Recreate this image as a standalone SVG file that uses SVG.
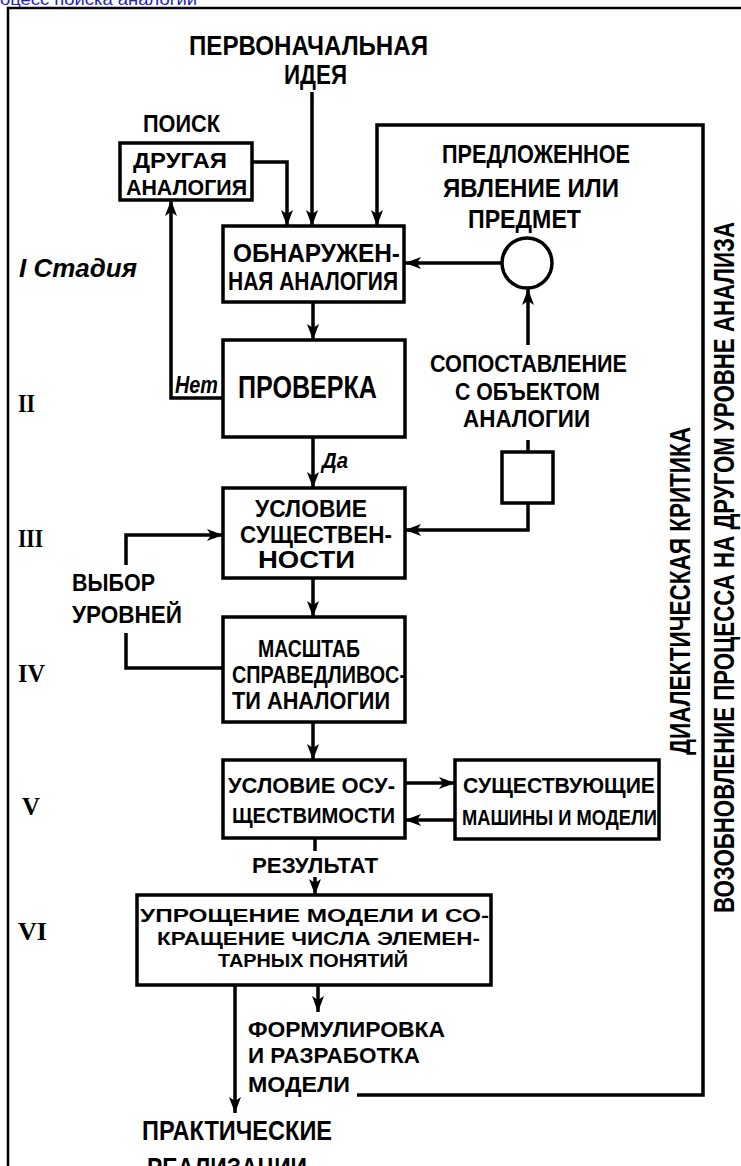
<svg xmlns="http://www.w3.org/2000/svg" width="741" height="1166" viewBox="0 0 741 1166">
<style>
.t{font-family:"Liberation Sans",Arial,sans-serif;font-weight:bold;fill:#000}
.i{font-style:italic}
.r{font-family:"Liberation Serif","Times New Roman",serif;font-weight:bold;fill:#000;font-size:26px}
.box{fill:#fff;stroke:#000;stroke-width:3.5}
.c{fill:none;stroke:#000;stroke-width:3.5}
.ca{fill:none;stroke:#000;stroke-width:3.5;marker-end:url(#ah)}
</style>
<defs>
<marker id="ah" viewBox="0 0 16 12" refX="16" refY="6" markerWidth="16" markerHeight="12" markerUnits="userSpaceOnUse" orient="auto">
<path d="M0,0 L16,6 L0,12 L4,6 z" fill="#000"/>
</marker>
</defs>
<rect width="741" height="1166" fill="#fff"/>
<text x="0" y="5" font-family="Liberation Sans,Arial,sans-serif" font-size="16" fill="#1f1fbf" textLength="197" lengthAdjust="spacingAndGlyphs">оцесс поиска аналогии</text>
<path d="M8,1166 V8 H741" fill="none" stroke="#000" stroke-width="2.5"/>

<g id="connectors">
<path class="ca" d="M312,92 V226"/>
<path class="ca" d="M252,162 H287 V226"/>
<path class="ca" d="M357,1095 H703 V125 H377 V226"/>
<path class="ca" d="M502,263 H405"/>
<path class="ca" d="M528,345 V289"/>
<path class="ca" d="M313,302 V340"/>
<path class="ca" d="M223,398 H171 V200"/>
<path class="ca" d="M313,437 V488"/>
<path class="c" d="M528,440 V452"/>
<path class="ca" d="M528,503 V530 H405"/>
<path class="ca" d="M126,565 V535 H223"/>
<path class="c" d="M126,633 V668 H223"/>
<path class="ca" d="M313,578 V617"/>
<path class="ca" d="M313,722 V760"/>
<path class="ca" d="M405,783 H455"/>
<path class="ca" d="M455,820 H405"/>
<path class="c" d="M315,838 V851"/>
<path class="ca" d="M315,877 V895"/>
<path class="ca" d="M318,985 V1012"/>
<path class="ca" d="M235,985 V1113"/>
</g>

<g id="start">
<text class="t" x="189" y="55" font-size="27" textLength="239" lengthAdjust="spacingAndGlyphs">ПЕРВОНАЧАЛЬНАЯ</text>
<text class="t" x="284" y="84" font-size="27" textLength="63" lengthAdjust="spacingAndGlyphs">ИДЕЯ</text>
</g>

<g id="search">
<text class="t" x="143" y="132" font-size="24" textLength="77" lengthAdjust="spacingAndGlyphs">ПОИСК</text>
</g>

<g id="other-analogy">
<rect class="box" x="120" y="143" width="132" height="57"/>
<text class="t" x="133" y="168" font-size="22" textLength="94" lengthAdjust="spacingAndGlyphs">ДРУГАЯ</text>
<text class="t" x="126" y="195" font-size="22" textLength="121" lengthAdjust="spacingAndGlyphs">АНАЛОГИЯ</text>
</g>

<g id="found-analogy">
<rect class="box" x="223" y="226" width="181" height="76"/>
<text class="t" x="233" y="262" font-size="25" textLength="167" lengthAdjust="spacingAndGlyphs">ОБНАРУЖЕН-</text>
<text class="t" x="228" y="290" font-size="25" textLength="170" lengthAdjust="spacingAndGlyphs">НАЯ АНАЛОГИЯ</text>
</g>

<g id="proposed">
<text class="t" x="442" y="163" font-size="25" textLength="188" lengthAdjust="spacingAndGlyphs">ПРЕДЛОЖЕННОЕ</text>
<text class="t" x="443" y="197" font-size="25" textLength="176" lengthAdjust="spacingAndGlyphs">ЯВЛЕНИЕ ИЛИ</text>
<text class="t" x="468" y="228" font-size="25" textLength="113" lengthAdjust="spacingAndGlyphs">ПРЕДМЕТ</text>
</g>

<g id="circle-node">
<circle cx="527" cy="263" r="25" fill="#fff" stroke="#000" stroke-width="3.5"/>
</g>

<g id="check">
<rect class="box" x="223" y="340" width="182" height="97"/>
<text class="t" x="238" y="398" font-size="31" textLength="139" lengthAdjust="spacingAndGlyphs">ПРОВЕРКА</text>
<text class="t i" x="175" y="393" font-size="24" textLength="43" lengthAdjust="spacingAndGlyphs">Нет</text>
<text class="t i" x="322" y="468" font-size="22" textLength="26" lengthAdjust="spacingAndGlyphs">Да</text>
</g>

<g id="compare">
<text class="t" x="430" y="372" font-size="24" textLength="197" lengthAdjust="spacingAndGlyphs">СОПОСТАВЛЕНИЕ</text>
<text class="t" x="455" y="400" font-size="24" textLength="145" lengthAdjust="spacingAndGlyphs">С ОБЪЕКТОМ</text>
<text class="t" x="463" y="427" font-size="24" textLength="127" lengthAdjust="spacingAndGlyphs">АНАЛОГИИ</text>
</g>

<g id="small-box">
<rect class="box" x="502" y="452" width="51" height="51"/>
</g>

<g id="essential">
<rect class="box" x="223" y="488" width="182" height="90"/>
<text class="t" x="255" y="517" font-size="23" textLength="112" lengthAdjust="spacingAndGlyphs">УСЛОВИЕ</text>
<text class="t" x="240" y="543" font-size="23" textLength="152" lengthAdjust="spacingAndGlyphs">СУЩЕСТВЕН-</text>
<text class="t" x="258" y="568" font-size="23" textLength="97" lengthAdjust="spacingAndGlyphs">НОСТИ</text>
</g>

<g id="levels">
<text class="t" x="72" y="591" font-size="24" textLength="83" lengthAdjust="spacingAndGlyphs">ВЫБОР</text>
<text class="t" x="72" y="623" font-size="24" textLength="110" lengthAdjust="spacingAndGlyphs">УРОВНЕЙ</text>
</g>

<g id="scale">
<rect class="box" x="223" y="617" width="182" height="105"/>
<text class="t" x="258" y="657" font-size="24" textLength="102" lengthAdjust="spacingAndGlyphs">МАСШТАБ</text>
<text class="t" x="232" y="683" font-size="24" textLength="174" lengthAdjust="spacingAndGlyphs">СПРАВЕДЛИВОС-</text>
<text class="t" x="232" y="709" font-size="24" textLength="158" lengthAdjust="spacingAndGlyphs">ТИ АНАЛОГИИ</text>
</g>

<g id="feasibility">
<rect class="box" x="223" y="760" width="182" height="78"/>
<text class="t" x="228" y="793" font-size="22" textLength="167" lengthAdjust="spacingAndGlyphs">УСЛОВИЕ ОСУ-</text>
<text class="t" x="232" y="823" font-size="22" textLength="163" lengthAdjust="spacingAndGlyphs">ЩЕСТВИМОСТИ</text>
</g>

<g id="existing">
<rect class="box" x="455" y="760" width="204" height="79"/>
<text class="t" x="463" y="793" font-size="22" textLength="192" lengthAdjust="spacingAndGlyphs">СУЩЕСТВУЮЩИЕ</text>
<text class="t" x="462" y="825" font-size="22" textLength="195" lengthAdjust="spacingAndGlyphs">МАШИНЫ И МОДЕЛИ</text>
</g>

<g id="result">
<text class="t" x="252" y="873" font-size="22" textLength="126" lengthAdjust="spacingAndGlyphs">РЕЗУЛЬТАТ</text>
</g>

<g id="simplify">
<rect class="box" x="137" y="895" width="354" height="90"/>
<text class="t" x="140" y="922" font-size="18" textLength="349" lengthAdjust="spacingAndGlyphs">УПРОЩЕНИЕ МОДЕЛИ И СО-</text>
<text class="t" x="157" y="945" font-size="18" textLength="323" lengthAdjust="spacingAndGlyphs">КРАЩЕНИЕ ЧИСЛА ЭЛЕМЕН-</text>
<text class="t" x="218" y="967" font-size="18" textLength="190" lengthAdjust="spacingAndGlyphs">ТАРНЫХ ПОНЯТИЙ</text>
</g>

<g id="formulation">
<text class="t" x="248" y="1037" font-size="22" textLength="197" lengthAdjust="spacingAndGlyphs">ФОРМУЛИРОВКА</text>
<text class="t" x="248" y="1063" font-size="22" textLength="172" lengthAdjust="spacingAndGlyphs">И РАЗРАБОТКА</text>
<text class="t" x="248" y="1092" font-size="22" textLength="102" lengthAdjust="spacingAndGlyphs">МОДЕЛИ</text>
</g>

<g id="practical">
<text class="t" x="142" y="1140" font-size="28" textLength="190" lengthAdjust="spacingAndGlyphs">ПРАКТИЧЕСКИЕ</text>
<text class="t" x="147" y="1177" font-size="28" textLength="160" lengthAdjust="spacingAndGlyphs">РЕАЛИЗАЦИИ</text>
</g>

<g id="stages">
<text class="t i" x="19" y="277" font-size="26" textLength="118" lengthAdjust="spacingAndGlyphs">I Стадия</text>
<text class="r" x="18" y="412" textLength="17" lengthAdjust="spacingAndGlyphs">II</text>
<text class="r" x="18" y="547" textLength="25" lengthAdjust="spacingAndGlyphs">III</text>
<text class="r" x="18" y="682" textLength="27" lengthAdjust="spacingAndGlyphs">IV</text>
<text class="r" x="22" y="815" textLength="18" lengthAdjust="spacingAndGlyphs">V</text>
<text class="r" x="18" y="940" textLength="29" lengthAdjust="spacingAndGlyphs">VI</text>
</g>

<g id="dialectic">
<text class="t" transform="translate(690,755) rotate(-90)" font-size="30" textLength="328" lengthAdjust="spacingAndGlyphs">ДИАЛЕКТИЧЕСКАЯ КРИТИКА</text>
</g>
<g id="renewal">
<text class="t" transform="translate(734,913) rotate(-90)" font-size="29" textLength="691" lengthAdjust="spacingAndGlyphs">ВОЗОБНОВЛЕНИЕ ПРОЦЕССА НА ДРУГОМ УРОВНЕ АНАЛИЗА</text>
</g>
</svg>
